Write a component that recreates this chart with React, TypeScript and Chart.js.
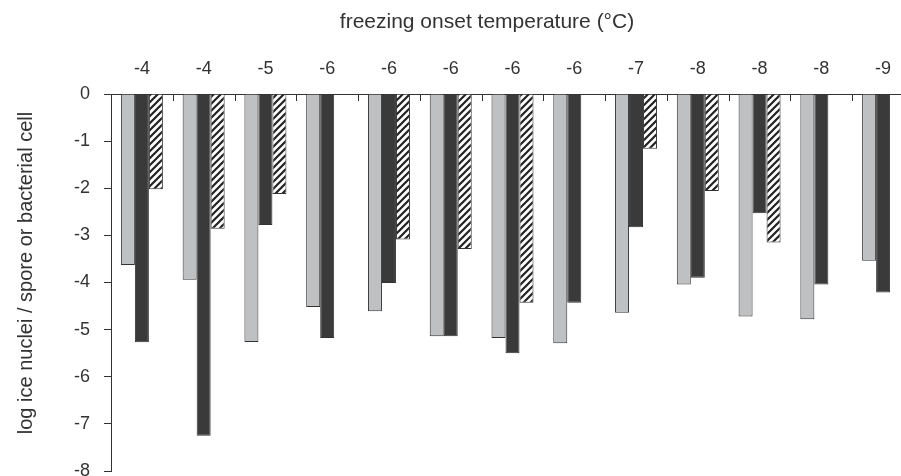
import React, { useEffect, useRef } from "react";
import { Chart, registerables } from "chart.js";

Chart.register(...registerables);

const categories = ["-4", "-4", "-5", "-6", "-6", "-6", "-6", "-6", "-7", "-8", "-8", "-8", "-9"];
const grayValues = [-3.63, -3.94, -5.26, -4.52, -4.61, -5.14, -5.18, -5.29, -4.64, -4.04, -4.72, -4.78, -3.54];
const blackValues = [-5.27, -7.25, -2.78, -5.18, -4.01, -5.14, -5.5, -4.43, -2.83, -3.9, -2.53, -4.04, -4.21];
const hatchedValues = [-2.02, -2.86, -2.12, null, -3.09, -3.29, -4.43, null, -1.16, -2.06, -3.15, null, null];
const yTicks = [0, -1, -2, -3, -4, -5, -6, -7, -8];

const xTitle = "freezing onset temperature (°C)";
const yTitle = "log ice nuclei / spore or bacterial cell";

const FONT = "'Liberation Sans', Arial, sans-serif";
const TEXT = "#333333";

function makeHatch(): CanvasPattern | string {
  const c = document.createElement("canvas");
  const s = 7;
  c.width = s;
  c.height = s;
  const g = c.getContext("2d");
  if (!g) return "#ffffff";
  g.fillStyle = "#ffffff";
  g.fillRect(0, 0, s, s);
  g.strokeStyle = "#222222";
  g.lineWidth = 2.2;
  g.beginPath();
  g.moveTo(-1, 1);
  g.lineTo(1, -1);
  g.moveTo(0, s);
  g.lineTo(s, 0);
  g.moveTo(s - 1, s + 1);
  g.lineTo(s + 1, s - 1);
  g.stroke();
  const p = g.createPattern(c, "repeat");
  return p || "#ffffff";
}

const decorPlugin = {
  id: "decor",
  afterDraw(chart: any) {
    const ctx = chart.ctx;
    const xs = chart.scales.x;
    const n = categories.length;
    const step = xs.getPixelForValue(1) - xs.getPixelForValue(0);
    ctx.save();
    ctx.strokeStyle = "#333333";
    ctx.lineWidth = 1;
    ctx.beginPath();
    for (let i = 1; i <= n; i++) {
      const x = Math.round(xs.getPixelForValue(i) - step / 2) + 0.5;
      ctx.moveTo(x, xs.bottom);
      ctx.lineTo(x, xs.bottom + 7);
    }
    ctx.stroke();

    ctx.fillStyle = TEXT;
    ctx.font = `21px ${FONT}`;
    ctx.textAlign = "center";
    ctx.textBaseline = "alphabetic";
    ctx.fillText(xTitle, 487, 28);

    ctx.font = `20px ${FONT}`;
    ctx.translate(26, 273);
    ctx.rotate(-Math.PI / 2);
    ctx.textBaseline = "middle";
    ctx.fillText(yTitle, 0, 0);
    ctx.restore();
  },
};

export default function App() {
  const ref = useRef<HTMLCanvasElement | null>(null);

  useEffect(() => {
    if (!ref.current) return;
    const hatch = makeHatch();
    const chart = new Chart(ref.current, {
      type: "bar",
      data: {
        labels: categories,
        datasets: [
          {
            data: grayValues,
            backgroundColor: "#bfc0c2",
            borderColor: "#333333",
            borderWidth: 1,
          },
          {
            data: blackValues,
            backgroundColor: "#3a3a3a",
            borderColor: "#333333",
            borderWidth: 1,
          },
          {
            data: hatchedValues as any,
            backgroundColor: hatch as any,
            borderColor: "#333333",
            borderWidth: 1,
          },
        ],
      },
      options: {
        animation: false,
        responsive: true,
        maintainAspectRatio: false,
        layout: { padding: { top: 0, left: 0, right: 0, bottom: 5 } },
        datasets: {
          bar: { categoryPercentage: 0.68, barPercentage: 1 },
        },
        plugins: {
          legend: { display: false },
          tooltip: { enabled: false },
          title: { display: false },
        },
        scales: {
          x: {
            position: "top",
            grid: { display: true, drawOnChartArea: false, drawTicks: false },
            border: { display: true, color: "#333333", width: 1 },
            ticks: {
              color: TEXT,
              font: { size: 18, family: FONT },
              padding: 14,
              maxRotation: 0,
              autoSkip: false,
            },
            afterFit(scale: any) {
              scale.height = 94;
              scale.paddingLeft = 0;
              scale.paddingRight = 0;
            },
          },
          y: {
            min: -8,
            max: 0,
            afterBuildTicks(scale: any) {
              scale.ticks = yTicks.map((v) => ({ value: v }));
            },
            grid: {
              display: true,
              drawOnChartArea: false,
              drawTicks: true,
              tickLength: 7,
              color: "#333333",
            },
            border: { display: true, color: "#333333", width: 1 },
            ticks: {
              color: TEXT,
              font: { size: 18, family: FONT },
              padding: 14,
            },
            afterFit(scale: any) {
              scale.width = 111;
              scale.paddingTop = 0;
              scale.paddingBottom = 0;
            },
          },
        },
      },
      plugins: [decorPlugin],
    });
    return () => chart.destroy();
  }, []);

  return (
    <div
      style={{
        position: "fixed",
        left: 0,
        top: 0,
        width: 901,
        height: 476,
        overflow: "hidden",
        background: "#ffffff",
      }}
    >
      <div style={{ position: "relative", width: 914, height: 476 }}>
        <canvas ref={ref} />
      </div>
    </div>
  );
}
